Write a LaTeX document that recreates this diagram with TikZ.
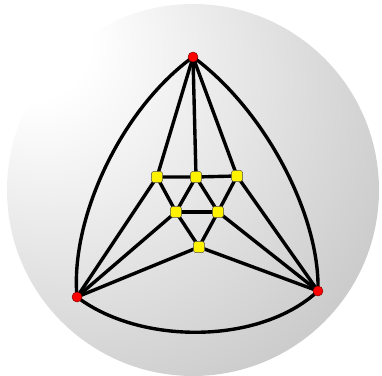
\documentclass[tikz,border=0pt]{standalone}
\pgfdeclarelayer{sphere}
\pgfdeclarelayer{edges}
\pgfsetlayers{sphere,edges,main}
\pgfdeclareradialshading{spherish}{\pgfpoint{-24bp}{22bp}}{%
  color(0bp)=(white);
  color(8bp)=(white);
  color(25bp)=(black!10);
  color(50bp)=(black!25);
  color(70bp)=(black!35);
  color(90bp)=(black!40)}
\tikzset{
  rednode/.style={circle,fill=red,draw=red!50!black,line width=0.4pt,inner sep=0pt,minimum size=8.5pt},
  yelnode/.style={rectangle,rounded corners=1.5pt,fill=yellow,draw=black!70,line width=0.4pt,inner sep=0pt,minimum size=9.5pt},
  edge/.style={line width=2.9pt,black}
}
\begin{document}
\begin{tikzpicture}[x=0.03cm,y=-0.03cm]
\useasboundingbox (0,0) rectangle (382,376);
\begin{pgfonlayer}{sphere}
\shade[shading=spherish] (193,190) circle[radius=186];
\end{pgfonlayer}
\node[rednode] (T) at (193,57) {};
\node[rednode] (L) at (77,297) {};
\node[rednode] (R) at (318,291) {};
\node[yelnode] (Y1) at (157,177) {};
\node[yelnode] (Y2) at (196,177) {};
\node[yelnode] (Y3) at (237,176) {};
\node[yelnode] (Y4) at (176,212) {};
\node[yelnode] (Y5) at (218,212) {};
\node[yelnode] (Y6) at (199,247) {};
\begin{pgfonlayer}{edges}
\begin{scope}[edge]
\draw (T.center) .. controls (120,110) and (70,220) .. (L.center);
\draw (T.center) .. controls (265,110) and (320,215) .. (R.center);
\draw (L.center) .. controls (140,345) and (260,345) .. (R.center);
\draw (T.center) -- (Y1.center);
\draw (T.center) -- (Y2.center);
\draw (T.center) -- (Y3.center);
\draw (Y1.center) -- (Y2.center) -- (Y3.center);
\draw (Y1.center) -- (Y4.center) -- (Y2.center) -- (Y5.center) -- (Y3.center);
\draw (Y4.center) -- (Y5.center);
\draw (Y4.center) -- (Y6.center) -- (Y5.center);
\draw (L.center) -- (Y1.center);
\draw (L.center) -- (Y4.center);
\draw (L.center) -- (Y6.center);
\draw (R.center) -- (Y3.center);
\draw (R.center) -- (Y5.center);
\draw (R.center) -- (Y6.center);
\end{scope}
\end{pgfonlayer}
\end{tikzpicture}
\end{document}
